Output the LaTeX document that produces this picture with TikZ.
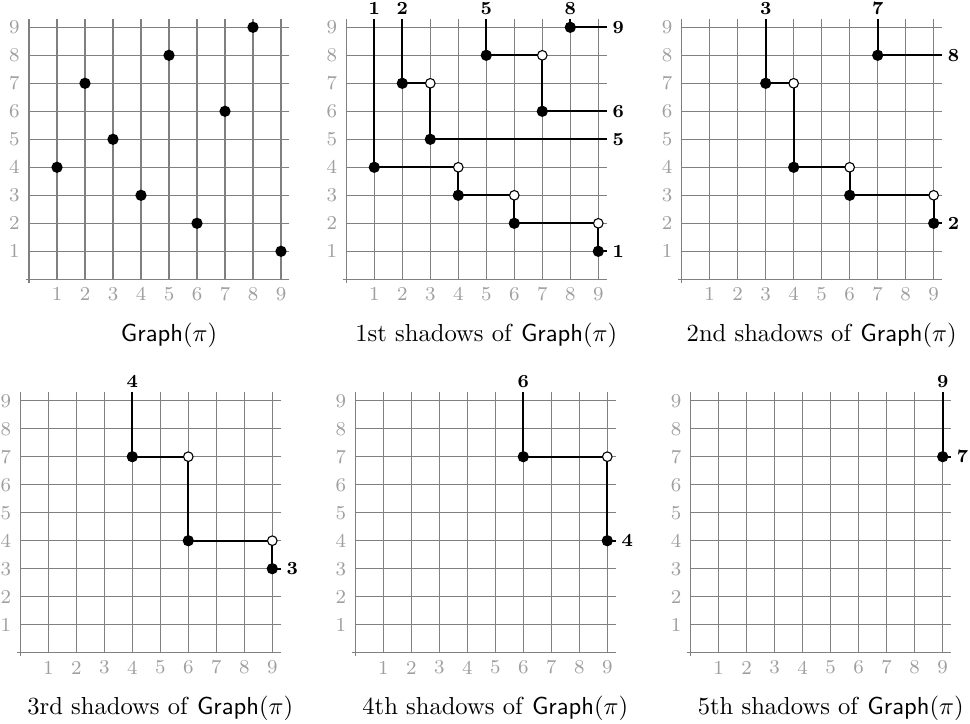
\documentclass[tikz,border=0pt]{standalone}
\begin{document}
\begin{tikzpicture}[x=0.4cm,y=0.4cm,
  gridline/.style={gray, line width=0.5pt},
  ticklab/.style={text=gray!75, font=\footnotesize, inner sep=0pt},
  shadowline/.style={line width=0.8pt, black},
  toplab/.style={font=\fontsize{7.5}{9}\selectfont\bfseries, inner sep=0pt, anchor=base},
  rightlab/.style={font=\fontsize{7.5}{9}\selectfont\bfseries, inner sep=0pt, anchor=west},
  captext/.style={anchor=base, inner sep=0pt},
  fdot/.style={circle, fill=black, inner sep=0pt, minimum size=4.6pt},
  odot/.style={circle, draw=black, fill=white, line width=0.45pt, inner sep=0pt, minimum size=3.9pt}]
\useasboundingbox (0,0) rectangle (34.643,25.857);
\newcommand\gridpanel{%
  \foreach \i in {1,...,9} {
    \draw[gridline] (\i,0) -- (\i,9.3);
    \draw[gridline] (0,\i) -- (9.3,\i);
    \node[ticklab] at (\i,-0.53) {\i};
    \node[ticklab] at (-0.52,\i) {\i};
  }
  \draw[gridline] (0,-0.12) -- (0,9.3);
  \draw[gridline] (-0.12,0) -- (9.3,0);
}
% Panel 1
\begin{scope}[shift={(1.036,15.882)}]
  \gridpanel
  \foreach \x/\y [count=\k] in {1/4,2/7,3/5,4/3,5/8,6/2,7/6,8/9,9/1}
    \node[fdot] (pa\k) at (\x,\y) {};
  \node[captext] (capa) at (5,-2.22) {\textsf{Graph}$(\pi)$};
\end{scope}
% Panel 2
\begin{scope}[shift={(12.368,15.882)}]
  \gridpanel
  \draw[shadowline] (1,9.3) -- (1,4) -- (4,4) -- (4,3) -- (6,3) -- (6,2) -- (9,2) -- (9,1) -- (9.3,1);
  \draw[shadowline] (2,9.3) -- (2,7) -- (3,7) -- (3,5) -- (9.3,5);
  \draw[shadowline] (5,9.3) -- (5,8) -- (7,8) -- (7,6) -- (9.3,6);
  \draw[shadowline] (8,9.3) -- (8,9) -- (9.3,9);
  \foreach \x/\y [count=\k] in {1/4,2/7,3/5,4/3,5/8,6/2,7/6,8/9,9/1}
    \node[fdot] (pb\k) at (\x,\y) {};
  \foreach \x/\y [count=\k] in {4/4,6/3,9/2,3/7,7/8}
    \node[odot] (ob\k) at (\x,\y) {};
  \foreach \x in {1,2,5,8} \node[toplab] (tb\x) at (\x,9.46) {\x};
  \foreach \y in {1,5,6,9} \node[rightlab] (rb\y) at (9.49,\y) {\y};
  \node[captext] (capb) at (5,-2.22) {1st shadows of \textsf{Graph}$(\pi)$};
\end{scope}
% Panel 3
\begin{scope}[shift={(24.346,15.882)}]
  \gridpanel
  \draw[shadowline] (3,9.3) -- (3,7) -- (4,7) -- (4,4) -- (6,4) -- (6,3) -- (9,3) -- (9,2) -- (9.3,2);
  \draw[shadowline] (7,9.3) -- (7,8) -- (9.3,8);
  \foreach \x/\y [count=\k] in {3/7,4/4,6/3,9/2,7/8}
    \node[fdot] (pc\k) at (\x,\y) {};
  \foreach \x/\y [count=\k] in {4/7,6/4,9/3}
    \node[odot] (oc\k) at (\x,\y) {};
  \foreach \x in {3,7} \node[toplab] (tc\x) at (\x,9.46) {\x};
  \foreach \y in {2,8} \node[rightlab] (rc\y) at (9.49,\y) {\y};
  \node[captext] (capc) at (5,-2.22) {2nd shadows of \textsf{Graph}$(\pi)$};
\end{scope}
% Panel 4
\begin{scope}[shift={(0.725,2.546)}]
  \gridpanel
  \draw[shadowline] (4,9.3) -- (4,7) -- (6,7) -- (6,4) -- (9,4) -- (9,3) -- (9.3,3);
  \foreach \x/\y [count=\k] in {4/7,6/4,9/3}
    \node[fdot] (pd\k) at (\x,\y) {};
  \foreach \x/\y [count=\k] in {6/7,9/4}
    \node[odot] (od\k) at (\x,\y) {};
  \node[toplab] (td4) at (4,9.46) {4};
  \node[rightlab] (rd3) at (9.49,3) {3};
  \node[captext] (capd) at (5,-2.22) {3rd shadows of \textsf{Graph}$(\pi)$};
\end{scope}
% Panel 5
\begin{scope}[shift={(12.689,2.546)}]
  \gridpanel
  \draw[shadowline] (6,9.3) -- (6,7) -- (9,7) -- (9,4) -- (9.3,4);
  \foreach \x/\y [count=\k] in {6/7,9/4}
    \node[fdot] (pe\k) at (\x,\y) {};
  \node[odot] (oe1) at (9,7) {};
  \node[toplab] (te6) at (6,9.46) {6};
  \node[rightlab] (re4) at (9.49,4) {4};
  \node[captext] (cape) at (5,-2.22) {4th shadows of \textsf{Graph}$(\pi)$};
\end{scope}
% Panel 6
\begin{scope}[shift={(24.668,2.546)}]
  \gridpanel
  \draw[shadowline] (9,9.3) -- (9,7) -- (9.3,7);
  \node[fdot] (pf1) at (9,7) {};
  \node[toplab] (tf9) at (9,9.46) {9};
  \node[rightlab] (rf7) at (9.49,7) {7};
  \node[captext] (capf) at (5,-2.22) {5th shadows of \textsf{Graph}$(\pi)$};
\end{scope}
\end{tikzpicture}
\end{document}
